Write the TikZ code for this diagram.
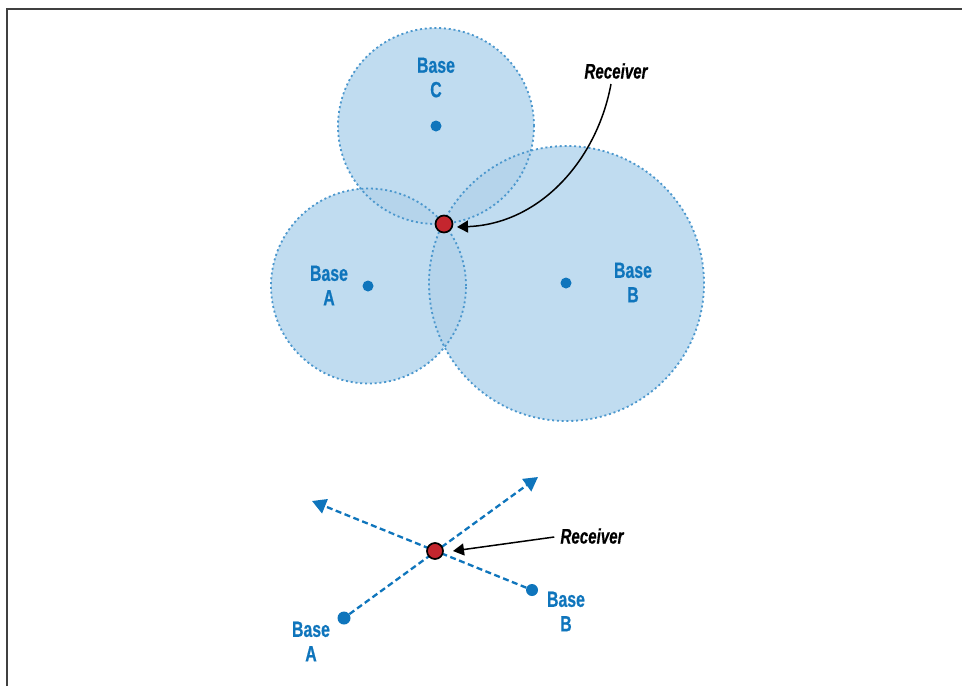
\documentclass[tikz,border=0pt]{standalone}
\usepackage{fontspec}
\setmainfont{Liberation Sans}
\newfontfamily\lblfont[FakeStretch=0.72,FakeBold=0.6]{Liberation Sans Bold}
\newfontfamily\rcvfont[FakeStretch=0.72,FakeBold=0.4]{Liberation Sans Bold Italic}
\usetikzlibrary{arrows.meta}
\definecolor{baseblue}{HTML}{0F75BC}
\definecolor{areafill}{HTML}{C0DCF0}
\definecolor{lensfill}{HTML}{B5D4EB}
\definecolor{recred}{HTML}{C4262E}
\tikzset{
  x=1pt,y=-1pt,
  area/.style={circle,draw=baseblue!75!white,line width=1.8pt,dash pattern=on 2pt off 2.8pt,minimum size=#1,inner sep=0pt,outer sep=0pt},
  basedot/.style={circle,fill=baseblue,minimum size=#1,inner sep=0pt},
  recdot/.style={circle,draw=black,line width=1.7pt,fill=recred,minimum size=#1,inner sep=0pt},
  baselabel/.style={text=baseblue,font=\lblfont\fontsize{22}{24.5}\selectfont,align=center,inner sep=0pt},
  rcvlabel/.style={text=black,font=\rcvfont\fontsize{21}{24}\selectfont,inner sep=0pt},
  blackarrow/.style={draw=black,line width=1.5pt,-{Triangle[length=11pt,width=12pt]}},
  bluearrow/.style={draw=baseblue,line width=2.3pt,dash pattern=on 6pt off 3.5pt,-{Triangle[length=14pt,width=15pt]}},
  frameline/.style={draw=black!75,line width=1.3pt}
}
\begin{document}
\begin{tikzpicture}
\useasboundingbox (0,0) rectangle (962,686);
\coordinate (fbl) at (7,686);
\coordinate (ftl) at (7,9);
\coordinate (ftr) at (962,9);
\draw[frameline] (fbl) -- (ftl) -- (ftr);
% filled areas
\fill[areafill] (436,126) circle[radius=98];
\fill[areafill] (368.5,286) circle[radius=97.5];
\fill[areafill] (566.5,283.5) circle[radius=137.5];
% overlaps
\begin{scope}
\clip (436,126) circle[radius=98];
\fill[lensfill] (368.5,286) circle[radius=97.5];
\fill[lensfill] (566.5,283.5) circle[radius=137.5];
\end{scope}
\begin{scope}
\clip (368.5,286) circle[radius=97.5];
\fill[lensfill] (566.5,283.5) circle[radius=137.5];
\end{scope}
% outlines
\node[area=196pt] (circC) at (436,126) {};
\node[area=195pt] (circA) at (368.5,286) {};
\node[area=275pt] (circB) at (566.5,283.5) {};
% upper diagram
\node[basedot=11pt] (dotC) at (436,126) {};
\node[basedot=11pt] (dotA) at (368,286) {};
\node[basedot=11pt] (dotB) at (566,283) {};
\node[baselabel] (lblC) at (436,77.5) {Base\\C};
\node[baselabel] (lblA) at (329,285.5) {Base\\A};
\node[baselabel] (lblB) at (633,282.5) {Base\\B};
\node[recdot=17pt] (rec) at (444,224) {};
\node[rcvlabel] (rlbl) at (616,71) {Receiver};
\coordinate (rstart) at (611,84);
\coordinate (rtip) at (457,227);
\draw[blackarrow] (rstart) .. controls (597,160) and (540,224) .. (rtip);
% lower diagram
\coordinate (tipR) at (538,477);
\coordinate (tipL) at (312,501);
\node[basedot=13pt] (lowA) at (344,618) {};
\node[basedot=12pt] (lowB) at (532,590) {};
\draw[bluearrow] (lowA) -- (tipR);
\draw[bluearrow] (lowB) -- (tipL);
\node[recdot=16pt] (lowrec) at (435,551) {};
\node[baselabel] (lblLA) at (311,641.5) {Base\\A};
\node[baselabel] (lblLB) at (566,611.5) {Base\\B};
\node[rcvlabel] (lowlbl) at (592,536) {Receiver};
\coordinate (lowtip) at (453,551);
\draw[blackarrow] (lowlbl.west) ++(-6,1) coordinate (ls) -- (lowtip);
\end{tikzpicture}
\end{document}
